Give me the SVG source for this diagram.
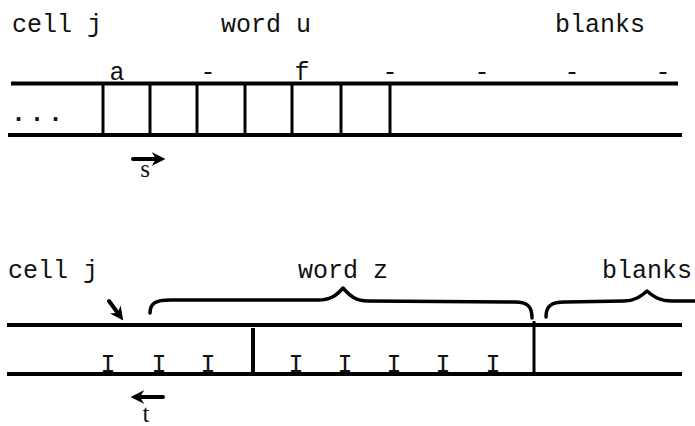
<svg xmlns="http://www.w3.org/2000/svg" width="695" height="426" viewBox="0 0 695 426">
  <style>
    .mono { font-family: "Liberation Mono", "Courier New", monospace; font-size: 25px; fill: #111; }
    .serif { font-family: "Liberation Serif", "Times New Roman", serif; font-size: 25px; fill: #111; }
    .tape { stroke: #000; stroke-width: 4; fill: none; }
    .cell { stroke: #000; stroke-width: 3; fill: none; }
    .brace { stroke: #000; stroke-width: 3.5; fill: none; stroke-linecap: round; stroke-linejoin: round; }
    .arrow { stroke: #000; stroke-width: 4; fill: none; stroke-linecap: round; }
  </style>
  <defs>
    <marker id="head" viewBox="0 0 10 10" refX="6" refY="5" markerWidth="3.4" markerHeight="3.4" orient="auto" markerUnits="strokeWidth">
      <path d="M0,0 L10,5 L0,10 L3,5 Z" fill="#000"/>
    </marker>
  </defs>
  <rect width="695" height="426" fill="#fff"/>

  <!-- upper tape: word u followed by blanks -->
  <g id="tape-u">
    <line class="tape" x1="11" y1="83.5" x2="678" y2="83.5"/>
    <line class="tape" x1="8" y1="135" x2="682" y2="135"/>
    <g class="cell">
      <line x1="103" y1="85" x2="103" y2="133"/>
      <line x1="150" y1="85" x2="150" y2="133"/>
      <line x1="197" y1="85" x2="197" y2="133"/>
      <line x1="245" y1="85" x2="245" y2="133"/>
      <line x1="292" y1="85" x2="292" y2="133"/>
      <line x1="341" y1="85" x2="341" y2="133"/>
      <line x1="390" y1="85" x2="390" y2="133"/>
    </g>
    <text class="mono" x="11" y="121" letter-spacing="3.5" font-weight="bold">...</text>
  </g>

  <g id="labels-u" class="mono" text-anchor="middle">
    <text x="12" y="32" text-anchor="start">cell j</text>
    <text x="266" y="32">word u</text>
    <text x="600" y="32">blanks</text>
    <text x="117" y="80">a</text>
    <text x="208" y="80">-</text>
    <text x="302" y="80">f</text>
    <text x="390" y="80">-</text>
    <text x="482" y="80">-</text>
    <text x="572" y="80">-</text>
    <text x="663" y="80">-</text>
  </g>

  <g id="head-s">
    <line class="arrow" x1="133" y1="159" x2="160" y2="159" marker-end="url(#head)"/>
    <text class="serif" x="145" y="177" text-anchor="middle">s</text>
  </g>

  <!-- lower tape: word z followed by blanks -->
  <g id="tape-z">
    <line class="tape" x1="7" y1="325" x2="682" y2="325"/>
    <line class="tape" x1="7" y1="374" x2="682" y2="374"/>
    <line class="tape" x1="253" y1="328" x2="253" y2="373"/>
    <line class="cell" x1="534" y1="321" x2="534" y2="374"/>
    <g class="mono" text-anchor="middle">
      <text x="108" y="372">I</text>
      <text x="159" y="372">I</text>
      <text x="208" y="372">I</text>
      <text x="296" y="372">I</text>
      <text x="345" y="372">I</text>
      <text x="394" y="372">I</text>
      <text x="443" y="372">I</text>
      <text x="493" y="372">I</text>
    </g>
  </g>

  <g id="labels-z" class="mono">
    <text x="8" y="278">cell j</text>
    <text x="343" y="278" text-anchor="middle">word z</text>
    <text x="647" y="278" text-anchor="middle">blanks</text>
  </g>

  <g id="braces">
    <path class="brace" d="M150,313 C150,303 156,300 170,300 L318,300 C330,300 336,296 343,288 C350,296 356,301 368,301 L515,302 C527,302 532,306 532,318"/>
    <path class="brace" d="M546,317 C546,307 550,302 565,302 L624,301 C634,301 640,297 647,291 C654,297 660,301 672,301 L697,301"/>
  </g>

  <g id="pointer-j">
    <line class="arrow" x1="109" y1="301" x2="120" y2="316" marker-end="url(#head)"/>
  </g>

  <g id="head-t">
    <line class="arrow" x1="163" y1="397" x2="136" y2="397" marker-end="url(#head)"/>
    <text class="serif" x="146" y="422" text-anchor="middle">t</text>
  </g>
</svg>
